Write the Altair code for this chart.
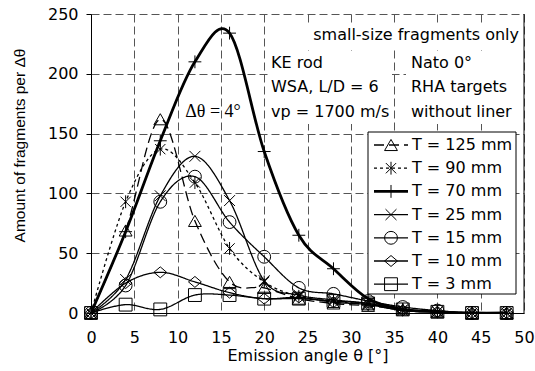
import altair as alt
import pandas as pd

# ---------------- data ----------------
angles = [0, 4, 8, 12, 16, 20, 24, 28, 32, 36, 40, 44, 48]
series_names = ["T = 125 mm", "T = 90 mm", "T = 70 mm", "T = 25 mm",
                "T = 15 mm", "T = 10 mm", "T = 3 mm"]
t125 = [0, 69, 162, 77, 26, 21, 12, 8, 6, 3, 1, 0, 0]
t90 = [0, 93, 137, 109, 54, 26, 14, 10, 7, 3, 1, 0, 0]
t70 = [0, 68, 144, 210, 234, 135, 65, 37, 12, 3, 1, 0, 0]
t25 = [0, 28, 98, 131, 94, 27, 15, 11, 8, 2, 1, 0, 0]
t15 = [0, 23, 93, 114, 76, 47, 21, 16, 10, 5, 2, 0, 0]
t10 = [0, 25, 34, 26, 17, 12, 13, 9, 7, 2, 1, 0, 0]
t3 = [0, 7, 3, 15, 15, 12, 12, 10, 8, 3, 1, 0, 0]
series_values = [t125, t90, t70, t25, t15, t10, t3]
thick_series = "T = 70 mm"

x_ticks = [0, 5, 10, 15, 20, 25, 30, 35, 40, 45, 50]
y_ticks = [0, 50, 100, 150, 200, 250]

info_left = ["KE rod", "WSA, L/D = 6", "vp = 1700 m/s"]
info_right = ["Nato 0°", "RHA targets", "without liner"]
info_top = "small-size fragments only"
delta_label = "Δθ = 4°"

rows = []
for name, vals in zip(series_names, series_values):
    for a, v in zip(angles, vals):
        rows.append({"angle": a, "count": v, "series": name})
df = pd.DataFrame(rows)

# ---------------- layout ----------------
PL, PT, W, H = 91, 14, 433, 299
X_MAX, Y_MAX = 50, 250


def xd(px):
    return (px - PL) * X_MAX / W


def yd(py):
    return (PT + H - py) * Y_MAX / H


SANS = "DejaVu Sans"
FS = 16

# ---------------- styles ----------------
shape_paths = [
    "triangle-up",
    "M-0.8,-0.8L0.8,0.8M-0.8,0.8L0.8,-0.8M0,-1L0,1",   # asterisk
    "M-1,0L1,0M0,-1L0,1",                              # plus
    "M-0.85,-0.85L0.85,0.85M-0.85,0.85L0.85,-0.85",    # x
    "circle",
    "M0,-0.85L1,0L0,0.85L-1,0Z",                       # diamond
    "square",
]
dashes = [[10, 5], [3, 3], [1, 0], [1, 0], [1, 0], [1, 0], [1, 0]]

shape_scale = alt.Scale(domain=series_names, range=shape_paths)
dash_scale = alt.Scale(domain=series_names, range=dashes)

x_scale = alt.Scale(domain=[0, X_MAX], nice=False, zero=False)
y_scale = alt.Scale(domain=[0, Y_MAX], nice=False)

x_axis = alt.Axis(
    values=x_ticks, format="d", title="Emission angle θ [°]",
    grid=True, gridColor="#555555", gridDash=[8, 4], gridWidth=1,
    tickSize=0, domainColor="black", domainWidth=1,
    labelFont=SANS, labelFontSize=FS, labelColor="black",
    labelBaseline="middle", labelPadding=24, labelFlush=False, labelOverlap=False,
    titleFont=SANS, titleFontSize=FS, titleFontWeight="normal", titleColor="black",
    titleX=W / 2, titleY=42, titleAlign="center", titleBaseline="middle",
)
y_axis = alt.Axis(
    values=y_ticks, format="d", title="Amount of fragments per Δθ",
    grid=True, gridColor="#555555", gridDash=[8, 4], gridWidth=1,
    tickSize=5, tickColor="black", domainColor="black", domainWidth=1,
    labelFont=SANS, labelFontSize=FS, labelColor="black",
    labelPadding=8, labelOverlap=False, labelFlush=False,
    titleFont="Liberation Sans", titleFontSize=15.5, titleFontWeight="normal",
    titleColor="black", titleAngle=270, titleX=-72, titleY=131,
    titleAlign="center", titleBaseline="middle",
)


def X(field):
    return alt.X(field, scale=x_scale, axis=x_axis)


def Y(field):
    return alt.Y(field, scale=y_scale, axis=y_axis)


is_thick = alt.datum.series == thick_series
not_thick = alt.datum.series != thick_series

base = alt.Chart(df)

lines_thin = base.transform_filter(not_thick).mark_line(
    interpolate="cardinal", color="black", clip=True, strokeWidth=1.3).encode(
    x=X("angle:Q"), y=Y("count:Q"), detail="series:N",
    strokeDash=alt.StrokeDash("series:N", scale=dash_scale, legend=None),
)
lines_thick = base.transform_filter(is_thick).mark_line(
    interpolate="cardinal", color="black", clip=True, strokeWidth=2.8).encode(
    x=X("angle:Q"), y=Y("count:Q"),
)

points = base.mark_point(filled=False, color="black", size=165, strokeWidth=1,
                         opacity=1).encode(
    x=X("angle:Q"), y=Y("count:Q"),
    shape=alt.Shape("series:N", scale=shape_scale, legend=None),
)

right_border = alt.Chart(pd.DataFrame({"angle": [X_MAX]})).mark_rule(
    color="black", strokeWidth=1).encode(x=X("angle:Q"))

# white boxes behind the annotation texts
boxes = pd.DataFrame({
    "angle": [xd(303), xd(268), xd(406)],
    "angle2": [xd(523), xd(392), xd(523)],
    "count": [yd(24), yd(51), yd(51)],
    "count2": [yd(47), yd(124), yd(124)],
})
box_layer = alt.Chart(boxes).mark_rect(fill="white", stroke=None).encode(
    x=X("angle:Q"), x2="angle2:Q", y=Y("count:Q"), y2="count2:Q")

ann = pd.DataFrame({
    "label": info_left + info_right,
    "angle": [xd(271)] * 3 + [xd(411)] * 3,
    "count": [yd(63), yd(87), yd(112)] * 2,
})
ann_layer = alt.Chart(ann).mark_text(
    align="left", baseline="middle", font=SANS, fontSize=FS, color="black"
).encode(x=X("angle:Q"), y=Y("count:Q"), text="label:N")

top_layer = alt.Chart(pd.DataFrame({"label": [info_top], "angle": [xd(519)],
                                    "count": [yd(35)]})).mark_text(
    align="right", baseline="middle", font=SANS, fontSize=FS, color="black"
).encode(x=X("angle:Q"), y=Y("count:Q"), text="label:N")

delta_layer = alt.Chart(pd.DataFrame({"label": [delta_label], "angle": [xd(213)],
                                      "count": [yd(112)]})).mark_text(
    align="center", baseline="middle", font="Liberation Serif", fontSize=18,
    color="black"
).encode(x=X("angle:Q"), y=Y("count:Q"), text="label:N")

# ---------------- manual legend ----------------
leg_box = alt.Chart(pd.DataFrame({
    "angle": [xd(368)], "angle2": [xd(516)],
    "count": [yd(132)], "count2": [yd(294)]})).mark_rect(
    fill="white", stroke="black", strokeWidth=1).encode(
    x=X("angle:Q"), x2="angle2:Q", y=Y("count:Q"), y2="count2:Q")

leg = pd.DataFrame({"series": series_names})
leg["count"] = [yd(145 + i * 23.2) for i in range(len(series_names))]
leg["angle"] = xd(374)
leg["angle2"] = xd(408)
leg["mx"] = xd(391)
leg["tx"] = xd(412)

leg_base = alt.Chart(leg)
leg_lines_thin = leg_base.transform_filter(not_thick).mark_rule(
    color="black", strokeWidth=1.3).encode(
    x=X("angle:Q"), x2="angle2:Q", y=Y("count:Q"),
    strokeDash=alt.StrokeDash("series:N", scale=dash_scale, legend=None),
)
leg_lines_thick = leg_base.transform_filter(is_thick).mark_rule(
    color="black", strokeWidth=2.8).encode(
    x=X("angle:Q"), x2="angle2:Q", y=Y("count:Q"),
)
leg_marks = leg_base.mark_point(filled=False, color="black", size=165,
                                strokeWidth=1, opacity=1).encode(
    x=X("mx:Q"), y=Y("count:Q"),
    shape=alt.Shape("series:N", scale=shape_scale, legend=None),
)
leg_text = leg_base.mark_text(
    align="left", baseline="middle", font=SANS, fontSize=FS, color="black"
).encode(x=X("tx:Q"), y=Y("count:Q"), text="series:N")

chart = alt.layer(
    lines_thin, lines_thick, points, right_border, box_layer, ann_layer,
    top_layer, delta_layer, leg_box, leg_lines_thin, leg_lines_thick,
    leg_marks, leg_text,
).properties(
    width=W, height=H,
    autosize=alt.AutoSizeParams(type="none"),
    padding={"left": PL, "top": PT, "right": 535 - PL - W, "bottom": 371 - PT - H},
    background="white",
).configure_view(stroke=None)

chart.save("out.html", embed_options={"renderer": "svg", "actions": False})
